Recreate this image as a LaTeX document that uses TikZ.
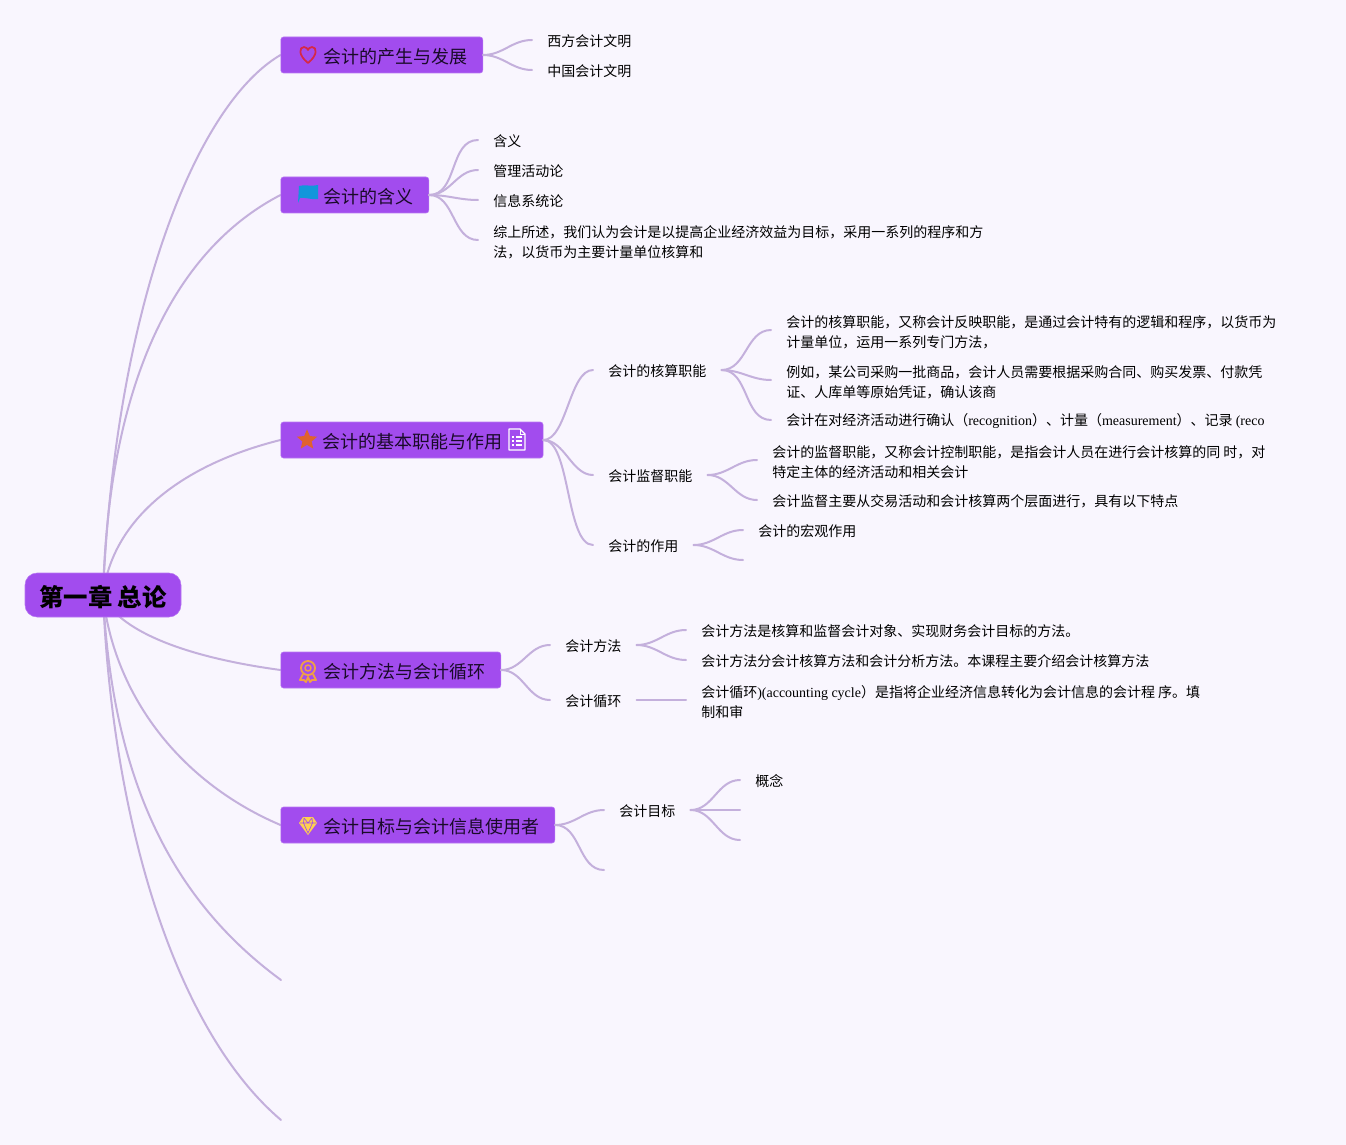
\documentclass[tikz,border=0pt]{standalone}
\usepackage{fontspec}
\setmainfont{Noto Sans CJK SC}
\newfontfamily\lat{Liberation Serif}
\usetikzlibrary{backgrounds,shapes.geometric}
\definecolor{paper}{HTML}{F9F6FE}
\definecolor{violet}{HTML}{A24CEE}
\definecolor{violetedge}{HTML}{B878F2}
\definecolor{linecol}{HTML}{C4B0DC}
\definecolor{inkcol}{HTML}{1A0A2A}
\definecolor{heartcol}{HTML}{D62846}
\definecolor{flagcol}{HTML}{1296DB}
\definecolor{starcol}{HTML}{E0622E}
\definecolor{medalcol}{HTML}{F0A046}
\definecolor{gemcol}{HTML}{FFD050}
\tikzset{
  rootnode/.style={fill=violet,draw=violetedge,rounded corners=9pt,minimum height=33pt,minimum width=117pt,inner xsep=0pt,font=\fontsize{18.3}{20}\selectfont\bfseries,text=black,execute at begin node={\rule{0pt}{18.8pt}}},
  branch/.style={fill=violet,draw=violetedge,rounded corners=2pt,minimum height=27pt,inner xsep=11.25pt,inner ysep=0pt,font=\fontsize{13.5}{16}\selectfont,text=inkcol,anchor=west,execute at begin node={\rule{0pt}{14.1pt}}},
  leaf/.style={inner xsep=11.25pt,inner ysep=0pt,align=left,font=\fontsize{10.5}{15}\selectfont,text=black,anchor=west,execute at begin node={\rule{0pt}{11.2pt}}},
  link/.style={draw=linecol,line width=1.5pt,line cap=round}
}
\newcommand{\gap}{\hspace*{21pt}}
\newcommand{\firstline}{\rule{0pt}{12.2pt}}
\begin{document}
\begin{tikzpicture}[x=0.75pt,y=-0.75pt]
\useasboundingbox (0,0) rectangle (1346,1145);
\begin{pgfonlayer}{background}
\fill[paper] (0,0) rectangle (1346,1145);
\end{pgfonlayer}

% root and main topics
\node[rootnode] (root) at (103,595) {第一章 总论};
\node[branch] (origin) at (280.5,55) {\gap 会计的产生与发展};
\node[branch] (meaning) at (280.5,195) {\gap 会计的含义};
\node[branch] (role) at (280.5,440) {\hspace*{20.1pt}会计的基本职能与作用\hspace*{19.1pt}};
\node[branch] (method) at (280.5,670) {\gap 会计方法与会计循环};
\node[branch] (goal) at (280.5,825) {\gap 会计目标与会计信息使用者};
\coordinate (endA) at (281,980);
\coordinate (endB) at (281,1120);

% first topic
\node[leaf] (west) at (532,40) {西方会计文明};
\node[leaf] (china) at (532,70) {中国会计文明};

% second topic
\node[leaf] (hanyi) at (478,140) {含义};
\node[leaf] (guanli) at (478,170) {管理活动论};
\node[leaf] (xinxi) at (478,200) {信息系统论};
\node[leaf] (zongshang) at (478,240) {\firstline 综上所述，我们认为会计是以提高企业经济效益为目标，采用一系列的程序和方\\法，以货币为主要计量单位核算和};

% third topic
\node[leaf] (hesuan) at (593,370) {会计的核算职能};
\node[leaf] (jiandu) at (593,475) {会计监督职能};
\node[leaf] (zuoyong) at (593,545) {会计的作用};
\node[leaf] (hsA) at (771,330) {\firstline 会计的核算职能，又称会计反映职能，是通过会计特有的逻辑和程序，以货币为\\计量单位，运用一系列专门方法，};
\node[leaf] (hsB) at (771,380) {\firstline 例如，某公司采购一批商品，会计人员需要根据采购合同、购买发票、付款凭\\证、人库单等原始凭证，确认该商};
\node[leaf] (hsC) at (771,420) {会计在对经济活动进行确认（{\lat recognition}）、计量（{\lat measurement}）、记录 {\lat (reco}};
\node[leaf] (jdA) at (757,460) {\firstline 会计的监督职能，又称会计控制职能，是指会计人员在进行会计核算的同 时，对\\特定主体的经济活动和相关会计};
\node[leaf] (jdB) at (757,500) {会计监督主要从交易活动和会计核算两个层面进行，具有以下特点};
\node[leaf] (zyA) at (743,530) {会计的宏观作用};
\coordinate (zyB) at (743,560);

% fourth topic
\node[leaf] (fangfa) at (550,645) {会计方法};
\node[leaf] (xunhuan) at (550,700) {会计循环};
\node[leaf] (ffA) at (686,630) {会计方法是核算和监督会计对象、实现财务会计目标的方法。};
\node[leaf] (ffB) at (686,660) {会计方法分会计核算方法和会计分析方法。本课程主要介绍会计核算方法};
\node[leaf] (xhA) at (686,700) {\firstline 会计循环{\lat )(accounting cycle}）是指将企业经济信息转化为会计信息的会计程 序。填\\制和审};

% fifth topic
\node[leaf] (mubiao) at (604,810) {会计目标};
\coordinate (goalB) at (604,870);
\node[leaf] (gainian) at (740,780) {概念};
\coordinate (mbB) at (740,810);
\coordinate (mbC) at (740,840);

\begin{pgfonlayer}{background}
\draw[link] (root.center) .. controls (115,310) and (195,105) .. (origin.west);
\draw[link] (root.center) .. controls (108,400) and (165,255) .. (meaning.west);
\draw[link] (root.center) .. controls (112,520) and (180,465) .. (role.west);
\draw[link] (root.center) .. controls (115,625) and (170,655) .. (method.west);
\draw[link] (root.center) .. controls (113,690) and (175,780) .. (goal.west);
\draw[link] (root.center) .. controls (112,770) and (165,895) .. (endA);
\draw[link] (root.center) .. controls (112,820) and (175,1030) .. (endB);
\end{pgfonlayer}

\draw[link] (origin.east) to[out=0,in=180] (west.west);
\draw[link] (origin.east) to[out=0,in=180] (china.west);
\foreach \n in {hanyi,guanli,xinxi,zongshang}
  \draw[link] (meaning.east) to[out=0,in=180] (\n.west);
\draw[link] (role.east) to[out=0,in=180,looseness=.7] (hesuan.west);
\draw[link] (role.east) to[out=0,in=180,looseness=.9] (jiandu.west);
\draw[link] (role.east) to[out=0,in=180,looseness=.6] (zuoyong.west);
\foreach \n in {hsA,hsB,hsC}
  \draw[link] (hesuan.east) to[out=0,in=180] (\n.west);
\foreach \n in {jdA,jdB}
  \draw[link] (jiandu.east) to[out=0,in=180] (\n.west);
\draw[link] (zuoyong.east) to[out=0,in=180] (zyA.west);
\draw[link] (zuoyong.east) to[out=0,in=180] (zyB);
\foreach \n in {fangfa,xunhuan}
  \draw[link] (method.east) to[out=0,in=180] (\n.west);
\foreach \n in {ffA,ffB}
  \draw[link] (fangfa.east) to[out=0,in=180] (\n.west);
\draw[link] (xunhuan.east) -- (xhA.west);
\draw[link] (goal.east) to[out=0,in=180] (mubiao.west);
\draw[link] (goal.east) to[out=0,in=180] (goalB);
\draw[link] (mubiao.east) to[out=0,in=180] (gainian.west);
\draw[link] (mubiao.east) to[out=0,in=180] (mbB);
\draw[link] (mubiao.east) to[out=0,in=180] (mbC);

% icons
\draw[heartcol,line width=1.3pt,line join=round]
  (308,63) .. controls (298,55) and (299,47) .. (304,47) .. controls (306,47) and (308,49) .. (308,50)
  .. controls (308,49) and (310,47) .. (312,47) .. controls (317,47) and (318,55) .. (308,63) -- cycle;
\fill[flagcol] (299,186) .. controls (305,184) and (311,187) .. (318,185) -- (318,199) .. controls (311,200) and (305,197) .. (300,198) -- (298,203) -- cycle;
\node[star,star points=5,star point ratio=2.2,fill=starcol,minimum size=16pt,inner sep=0pt] (staricon) at (307,440) {};
\draw[white,line width=1pt,line join=round] (509,429) -- (520,429) -- (525,434) -- (525,450) -- (509,450) -- cycle;
\draw[white,line width=0.7pt] (520,429) -- (520,434) -- (525,434);
\foreach \y in {437,441,445} {
  \fill[white] (512,\y-1) rectangle (514,\y+1);
  \draw[white,line width=0.9pt] (516,\y) -- (522,\y);
}
\draw[medalcol,line width=1.4pt] (308,668) circle (7);
\draw[medalcol,line width=1.1pt] (308,668) circle (3);
\draw[medalcol,line width=1.4pt,line join=round] (303,674) -- (300,680) -- (304,680) -- (306,682) -- (308,677) -- (310,682) -- (312,680) -- (316,680) -- (313,674);
\fill[gemcol] (303,817) -- (313,817) -- (317,823) -- (308,835) -- (299,823) -- cycle;
\draw[violet,line width=0.5pt] (300,823) -- (316,823) (304,818) -- (303.5,823) -- (308,833) -- (312.5,823) -- (312,818) (304,818) -- (308,823) -- (312,818);

\end{tikzpicture}
\end{document}
